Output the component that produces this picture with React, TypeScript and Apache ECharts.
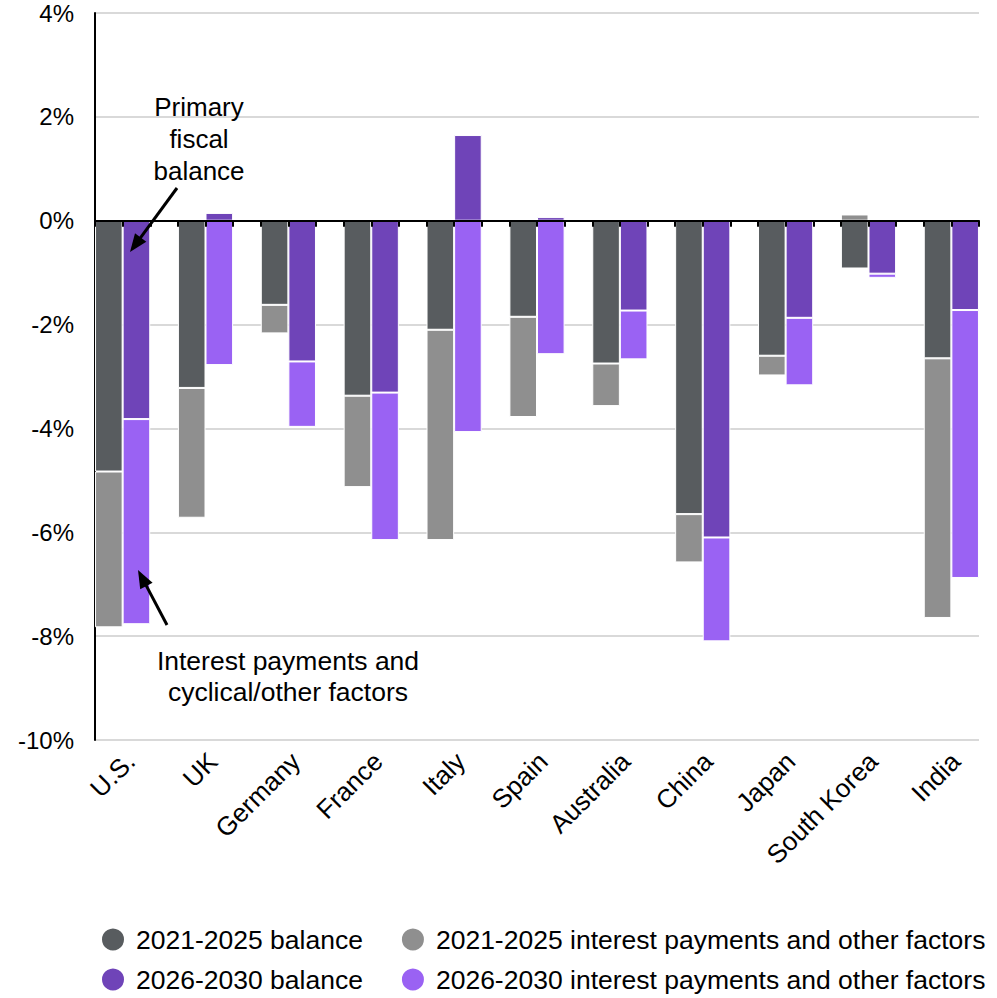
import React, { useEffect, useRef } from "react";
import * as echarts from "echarts";

const categories = [
  "U.S.", "UK", "Germany", "France", "Italy", "Spain",
  "Australia", "China", "Japan", "South Korea", "India",
];

// Primary balance and the interest/other-factor increment, % of GDP
const balance2125 = [-4.83, -3.22, -1.62, -3.37, -2.1, -1.85, -2.75, -5.65, -2.6, -0.92, -2.65];
const interest2125 = [-3.0, -2.5, -0.55, -1.76, -4.05, -1.93, -0.82, -0.93, -0.38, 0.12, -5.0];
const balance2630 = [-3.82, 0.15, -2.71, -3.31, 1.65, 0.07, -1.73, -6.1, -1.87, -1.02, -1.72];
const interest2630 = [-3.95, -2.78, -1.26, -2.84, -4.07, -2.57, -0.94, -2.0, -1.3, -0.08, -5.16];

const yTicks = { min: -10, max: 4, interval: 2 };

const COLORS = {
  bal2125: "#585c5f",
  int2125: "#8f8f8f",
  bal2630: "#6f44b8",
  int2630: "#9a62f3",
};

const FONT = "'Liberation Sans', Arial, sans-serif";

function arrow(tail: [number, number], tip: [number, number]) {
  const dx = tip[0] - tail[0];
  const dy = tip[1] - tail[1];
  const len = Math.hypot(dx, dy);
  const ux = dx / len;
  const uy = dy / len;
  const headLen = 18;
  const headHalf = 7;
  const bx = tip[0] - ux * headLen;
  const by = tip[1] - uy * headLen;
  return [
    {
      type: "line",
      shape: { x1: tail[0], y1: tail[1], x2: bx + ux * 2, y2: by + uy * 2 },
      style: { stroke: "#000", lineWidth: 3 },
      z: 20,
    },
    {
      type: "polygon",
      shape: {
        points: [
          [tip[0], tip[1]],
          [bx - uy * headHalf, by + ux * headHalf],
          [bx + uy * headHalf, by - ux * headHalf],
        ],
      },
      style: { fill: "#000" },
      z: 20,
    },
  ];
}

export default function App() {
  const ref = useRef<HTMLDivElement>(null);

  useEffect(() => {
    if (!ref.current) return;
    const chart = echarts.init(ref.current, null, { renderer: "svg" });

    const barBase = {
      type: "bar",
      xAxisIndex: 0,
      yAxisIndex: 0,
      barWidth: 27.6,
      barGap: "0%",
    };

    const legendBase = {
      left: 100,
      padding: 0,
      icon: "circle",
      itemWidth: 36,
      itemHeight: 24,
      itemGap: 37,
      textStyle: { fontSize: 26.5, color: "#000", fontFamily: FONT },
    };

    const hiddenValueAxis = (gridIndex: number) => ({
      type: "value",
      gridIndex,
      min: yTicks.min,
      max: yTicks.max,
      interval: yTicks.interval,
      axisLine: { show: false },
      axisTick: { show: false },
      axisLabel: { show: false },
      splitLine: { show: false },
    });

    chart.setOption({
      animation: false,
      backgroundColor: "#fff",
      textStyle: { fontFamily: FONT },
      grid: [
        // bars
        { left: 81.2, right: 4.2, top: 13, bottom: 258 },
        // value axis, gridlines and the zero line with its ticks
        { left: 95, right: 18, top: 13, bottom: 258 },
        // category labels, set slightly right of the group centres
        { left: 89.2, right: -3.8, top: 13, bottom: 258 },
      ],
      xAxis: [
        {
          type: "category",
          gridIndex: 0,
          data: categories,
          axisLine: { show: false, onZero: false },
          axisTick: { show: false },
          axisLabel: { show: false },
        },
        {
          type: "value",
          gridIndex: 1,
          min: 0,
          max: 32,
          interval: 1,
          z: 10,
          axisLine: { show: true, onZero: true, lineStyle: { color: "#000", width: 2 } },
          axisTick: { show: true, length: 6, lineStyle: { color: "#000", width: 2 } },
          axisLabel: { show: false },
          splitLine: { show: false },
        },
        {
          type: "category",
          gridIndex: 2,
          data: categories,
          axisLine: { show: false, onZero: false },
          axisTick: { show: false },
          axisLabel: {
            rotate: 45,
            margin: 17,
            fontSize: 26,
            color: "#000",
            fontFamily: FONT,
            interval: 0,
          },
        },
      ],
      yAxis: [
        hiddenValueAxis(0),
        {
          type: "value",
          gridIndex: 1,
          min: yTicks.min,
          max: yTicks.max,
          interval: yTicks.interval,
          axisLine: { show: true, lineStyle: { color: "#000", width: 2 } },
          axisTick: { show: false },
          axisLabel: {
            formatter: (v: number) => `${v}%`,
            fontSize: 24,
            color: "#000",
            margin: 21,
            fontFamily: FONT,
          },
          splitLine: { show: true, lineStyle: { color: "#d9d9d9", width: 2 } },
        },
        hiddenValueAxis(2),
      ],
      legend: [
        {
          ...legendBase,
          data: ["2021-2025 balance", "2021-2025 interest payments and other factors"],
          top: 926,
        },
        {
          ...legendBase,
          data: ["2026-2030 balance", "2026-2030 interest payments and other factors"],
          top: 966,
        },
      ],
      series: [
        {
          ...barBase,
          name: "2021-2025 balance",
          stack: "p2125",
          data: balance2125,
          itemStyle: { color: COLORS.bal2125, borderColor: "#fff", borderWidth: 1 },
        },
        {
          ...barBase,
          name: "2021-2025 interest payments and other factors",
          stack: "p2125",
          data: interest2125,
          itemStyle: { color: COLORS.int2125, borderColor: "#fff", borderWidth: 1 },
        },
        {
          ...barBase,
          name: "2026-2030 balance",
          stack: "p2630",
          data: balance2630,
          itemStyle: { color: COLORS.bal2630, borderColor: "#fff", borderWidth: 1 },
        },
        {
          ...barBase,
          name: "2026-2030 interest payments and other factors",
          stack: "p2630",
          data: interest2630,
          itemStyle: { color: COLORS.int2630, borderColor: "#fff", borderWidth: 1 },
        },
      ],
      graphic: [
        {
          type: "text",
          x: 199,
          y: 91,
          z: 20,
          style: {
            text: "Primary\nfiscal\nbalance",
            font: `26px ${FONT}`,
            fill: "#000",
            align: "center",
            verticalAlign: "top",
            lineHeight: 32,
          },
        },
        {
          type: "text",
          x: 288,
          y: 645,
          z: 20,
          style: {
            text: "Interest payments and\ncyclical/other factors",
            font: `26.5px ${FONT}`,
            fill: "#000",
            align: "center",
            verticalAlign: "top",
            lineHeight: 31,
          },
        },
        ...arrow([177, 188], [130, 252]),
        ...arrow([167, 625], [138, 570]),
      ],
    });

    return () => chart.dispose();
  }, []);

  return (
    <div
      ref={ref}
      style={{ position: "absolute", left: 0, top: 0, width: 997, height: 998 }}
    />
  );
}
